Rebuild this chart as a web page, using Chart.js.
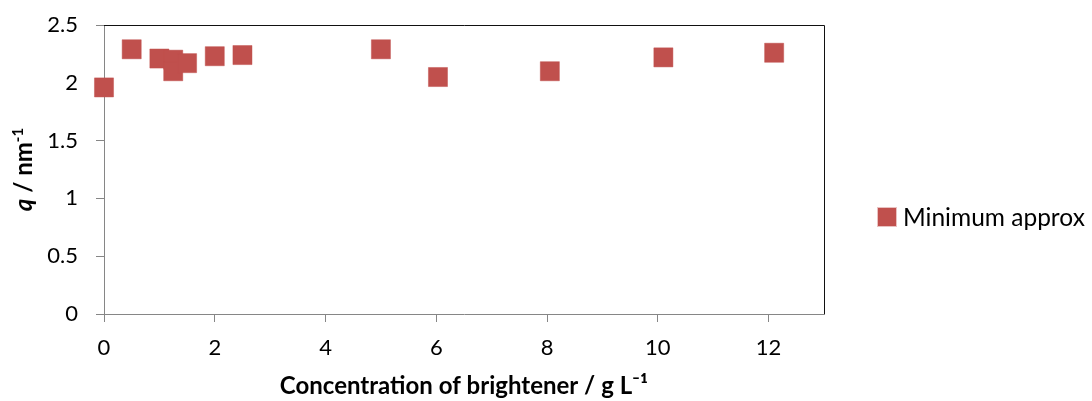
<!DOCTYPE html>
<html>
<head>
<meta charset="utf-8">
<script src="https://cdn.jsdelivr.net/npm/chart.js@4.4.1/dist/chart.umd.min.js"></script>
<style>
  html, body { margin: 0; padding: 0; background: #fff; }
  #wrap { position: relative; width: 1092px; height: 401px; overflow: hidden; }
  #legend { position: absolute; left: 878px; top: 202px; display: flex; align-items: center;
            font-family: Lato, "Open Sans", sans-serif; font-size: 24.5px; color: #000; white-space: nowrap; }
  #legend .box { width: 18px; height: 18px; background: #C0504D; margin-right: 7px;
                 box-shadow: 0 0 0 1px rgba(192,80,77,0.35); }
</style>
</head>
<body>
<div id="wrap">
  <canvas id="c" width="1092" height="401"></canvas>
  <div id="legend"><span class="box"></span><span id="legend-label"></span></div>
</div>
<script>
// series: Minimum approx
const seriesName = 'Minimum approx';
const concentration = [0, 0.5, 1.0, 1.25, 1.25, 1.5, 2.0, 2.5, 5.0, 6.03, 8.05, 10.1, 12.1];
const qValues       = [1.96, 2.29, 2.21, 2.20, 2.10, 2.17, 2.23, 2.24, 2.29, 2.05, 2.10, 2.22, 2.26];

const xTitle = 'Concentration of brightener / g L⁻¹';
// y title pieces: italic symbol, unit, superscript
const yTitleParts = ['q', ' / nm', '-1'];

const RED = '#C0504D';
const AXIS = '#868686';
const FONT = 'Lato, "Open Sans", sans-serif';

document.getElementById('legend-label').textContent = seriesName;

// black frame on top and right of the plot area (Excel style)
const frame = {
  id: 'frame',
  beforeDatasetsDraw(chart) {
    const { ctx, chartArea: a } = chart;
    ctx.save();
    ctx.strokeStyle = '#111';
    ctx.lineWidth = 1;
    ctx.beginPath();
    ctx.moveTo(a.left, a.top + 0.5);
    ctx.lineTo(a.right + 0.5, a.top + 0.5);
    ctx.lineTo(a.right + 0.5, a.bottom);
    ctx.stroke();
    ctx.restore();
  }
};

// rotated y title with italic q and a raised -1
const yTitlePlugin = {
  id: 'yTitle',
  afterDraw(chart) {
    const { ctx, chartArea: a } = chart;
    const fMain = `bold 24px ${FONT}`;
    const fItal = `italic bold 24px ${FONT}`;
    const fSup = `bold 15px ${FONT}`;
    ctx.save();
    ctx.fillStyle = '#000';
    ctx.textBaseline = 'alphabetic';
    ctx.font = fItal; const w0 = ctx.measureText(yTitleParts[0]).width;
    ctx.font = fMain; const w1 = ctx.measureText(yTitleParts[1]).width;
    ctx.font = fSup;  const w2 = ctx.measureText(yTitleParts[2]).width;
    const total = w0 + w1 + w2;
    ctx.translate(32, (a.top + a.bottom) / 2);
    ctx.rotate(-Math.PI / 2);
    let x = -total / 2;
    ctx.font = fItal; ctx.fillText(yTitleParts[0], x, 0); x += w0;
    ctx.font = fMain; ctx.fillText(yTitleParts[1], x, 0); x += w1;
    ctx.font = fSup;  ctx.fillText(yTitleParts[2], x, -9);
    ctx.restore();
  }
};

new Chart(document.getElementById('c'), {
  type: 'scatter',
  data: {
    datasets: [{
      label: seriesName,
      data: concentration.map((x, i) => ({ x, y: qValues[i] })),
      backgroundColor: RED,
      borderColor: 'rgba(192,80,77,0.45)',
      borderWidth: 1,
      pointStyle: 'rect',
      pointRadius: 13.5,
      pointHoverRadius: 13.5,
      clip: false,
    }]
  },
  options: {
    responsive: false,
    animation: false,
    layout: { padding: { top: 25, right: 268, bottom: 0, left: 0 } },
    plugins: {
      legend: { display: false },
      tooltip: { enabled: false }
    },
    scales: {
      x: {
        type: 'linear', min: 0, max: 13,
        afterFit: s => { s.height = 87; s.paddingLeft = 0; s.paddingRight = 0; },
        afterBuildTicks: s => { s.ticks = s.ticks.filter(t => t.value % 2 === 0); },
        ticks: { stepSize: 2, color: '#000', padding: 13, font: { family: FONT, size: 22 } },
        grid: { drawOnChartArea: false, drawTicks: true, tickLength: 8, color: AXIS },
        border: { color: AXIS, width: 1 },
        title: { display: true, text: xTitle, color: '#000', padding: { top: 0, bottom: 0 },
                 font: { family: FONT, size: 24, weight: 'bold' } }
      },
      y: {
        min: 0, max: 2.5,
        afterFit: s => { s.width = 104; s.paddingTop = 0; s.paddingBottom = 0; },
        ticks: { stepSize: 0.5, color: '#000', padding: 18, font: { family: FONT, size: 22 },
                 callback: v => String(v) },
        grid: { drawOnChartArea: false, drawTicks: true, tickLength: 8, color: AXIS },
        border: { color: AXIS, width: 1 }
      }
    }
  },
  plugins: [frame, yTitlePlugin]
});
</script>
</body>
</html>
